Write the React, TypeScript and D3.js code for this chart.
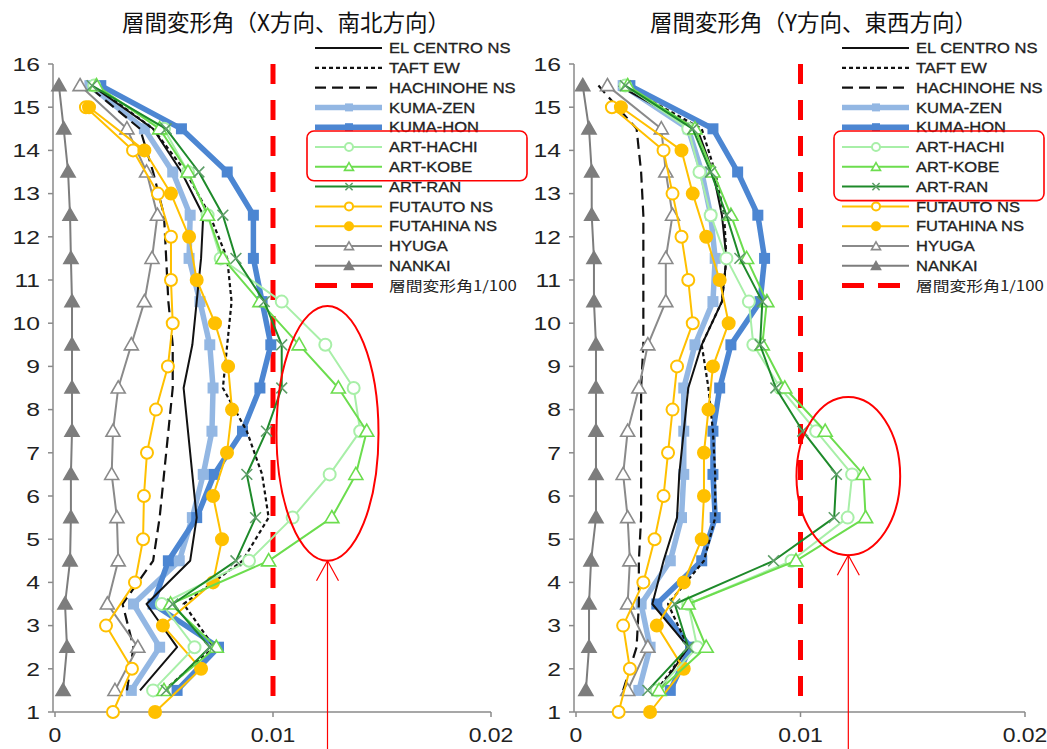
import React from 'react';
import * as d3 from 'd3';

// story levels (half levels = between floors, int levels = floor lines)
const halfLevels = [1.5, 2.5, 3.5, 4.5, 5.5, 6.5, 7.5, 8.5, 9.5, 10.5, 11.5, 12.5, 13.5, 14.5, 15.5];
const intLevels = [1, 2, 3, 4, 5, 6, 7, 8, 9, 10, 11, 12, 13, 14, 15];
const yTickLabels = [1, 2, 3, 4, 5, 6, 7, 8, 9, 10, 11, 12, 13, 14, 15, 16];
const xTickValues = [0, 0.01, 0.02];
const xTickLabels = ['0', '0.01', '0.02'];

const seriesNames = [
  'EL CENTRO NS', 'TAFT EW', 'HACHINOHE NS', 'KUMA-ZEN', 'KUMA-HON', 'ART-HACHI',
  'ART-KOBE', 'ART-RAN', 'FUTAUTO NS', 'FUTAHINA NS', 'HYUGA', 'NANKAI'
];
const limitLabel = '層間変形角1/100';

// X direction (north-south)
const elCentroX = [0.0039, 0.0056, 0.0042, 0.0062, 0.0065, 0.0063, 0.0061, 0.0059, 0.0063, 0.0065, 0.0067, 0.0068, 0.0058, 0.0045, 0.0017];
const taftX = [0.005, 0.0073, 0.0059, 0.0086, 0.0098, 0.0095, 0.0088, 0.0077, 0.0079, 0.0081, 0.0079, 0.0071, 0.006, 0.0045, 0.0018];
const hachinoheX = [0.0033, 0.0036, 0.0031, 0.0045, 0.0048, 0.005, 0.0052, 0.0054, 0.0054, 0.0052, 0.0051, 0.005, 0.0045, 0.0039, 0.0015];
const kumaZenX = [0.0035, 0.0048, 0.0036, 0.0057, 0.0063, 0.0068, 0.0072, 0.00725, 0.0071, 0.00665, 0.00615, 0.0062, 0.0054, 0.0041, 0.0016];
const kumaHonX = [0.0056, 0.0075, 0.0045, 0.0052, 0.0065, 0.0073, 0.0086, 0.0094, 0.0099, 0.0095, 0.0091, 0.0091, 0.0079, 0.0058, 0.0021];
const artHachiX = [0.0045, 0.0064, 0.0049, 0.0089, 0.0109, 0.0126, 0.014, 0.0137, 0.0124, 0.0104, 0.0076, 0.007, 0.0061, 0.005, 0.0018];
const artKobeX = [0.005, 0.0074, 0.0053, 0.0098, 0.0127, 0.0138, 0.0143, 0.013, 0.0112, 0.0094, 0.0077, 0.007, 0.0061, 0.0048, 0.0019];
const artRanX = [0.0051, 0.0071, 0.0054, 0.0083, 0.0092, 0.0088, 0.0097, 0.0104, 0.0104, 0.0096, 0.0083, 0.0077, 0.0066, 0.0051, 0.0017];
const futautoX = [0.00266, 0.00353, 0.00234, 0.00367, 0.00404, 0.00408, 0.00422, 0.00463, 0.00518, 0.0054, 0.00532, 0.00532, 0.00472, 0.00358, 0.00142];
const futahinaX = [0.00459, 0.0067, 0.00495, 0.00725, 0.00766, 0.00725, 0.00789, 0.00812, 0.00794, 0.00734, 0.0065, 0.00615, 0.00532, 0.0041, 0.00156];
const hyugaX = [0.00275, 0.0038, 0.0024, 0.0029, 0.00284, 0.0026, 0.00266, 0.0029, 0.0035, 0.0041, 0.00445, 0.0047, 0.0042, 0.0033, 0.00115];
const nankaiX = [0.00037, 0.00055, 0.00046, 0.00069, 0.00073, 0.00073, 0.00078, 0.00078, 0.00078, 0.00078, 0.00073, 0.00069, 0.0006, 0.0004, 0.00018];

// Y direction (east-west)
const elCentroY = [0.0037, 0.005, 0.0034, 0.0039, 0.0045, 0.0046, 0.0048, 0.005, 0.0056, 0.0065, 0.0067, 0.0065, 0.0061, 0.0054, 0.0019];
const taftY = [0.0036, 0.005, 0.0041, 0.0057, 0.0062, 0.0062, 0.0061, 0.0059, 0.0056, 0.0065, 0.0067, 0.0066, 0.0062, 0.0056, 0.0021];
const hachinoheY = [0.0021, 0.0027, 0.0028, 0.0028, 0.0029, 0.0029, 0.0029, 0.0029, 0.003, 0.003, 0.003, 0.003, 0.0029, 0.0027, 0.001];
const kumaZenY = [0.0028, 0.0033, 0.0029, 0.0042, 0.0047, 0.0048, 0.0048, 0.0048, 0.0053, 0.0061, 0.0062, 0.006, 0.0056, 0.005, 0.0021];
const kumaHonY = [0.0042, 0.0051, 0.0036, 0.0056, 0.0062, 0.0061, 0.0061, 0.0064, 0.0069, 0.0082, 0.0084, 0.0081, 0.0072, 0.0061, 0.0024];
const artHachiY = [0.0036, 0.0054, 0.005, 0.0096, 0.0121, 0.0123, 0.0107, 0.0091, 0.0079, 0.0077, 0.0067, 0.006, 0.0055, 0.005, 0.0022];
const artKobeY = [0.0037, 0.0058, 0.005, 0.0098, 0.0129, 0.0128, 0.0111, 0.0093, 0.0083, 0.0085, 0.0076, 0.0069, 0.0061, 0.0053, 0.0023];
const artRanY = [0.0032, 0.005, 0.0044, 0.0088, 0.0115, 0.0116, 0.0101, 0.0089, 0.0082, 0.0083, 0.0073, 0.0067, 0.006, 0.0052, 0.0022];
const futautoY = [0.0019, 0.0024, 0.0021, 0.003, 0.0035, 0.0039, 0.0041, 0.0043, 0.0045, 0.0052, 0.005, 0.0047, 0.0043, 0.0039, 0.0016];
const futahinaY = [0.0033, 0.0048, 0.0036, 0.0048, 0.0056, 0.0057, 0.0057, 0.0059, 0.0061, 0.0068, 0.0064, 0.0058, 0.0052, 0.0047, 0.002];
const hyugaY = [0.0023, 0.0032, 0.0023, 0.0024, 0.0023, 0.0021, 0.0023, 0.0028, 0.0032, 0.004, 0.004, 0.0043, 0.004, 0.0038, 0.0014];
const nankaiY = [0.00044, 0.00058, 0.00058, 0.00067, 0.00089, 0.00089, 0.00089, 0.00089, 0.00089, 0.0008, 0.0008, 0.0007, 0.0007, 0.00058, 0.0003];

const limitDrift = 0.01;

type Style = { stroke: string; width: number; dash?: string; marker?: string; fill?: string; mstroke?: string };
const STYLE: Record<string, Style> = {
  'EL CENTRO NS': { stroke: '#111', width: 2 },
  'TAFT EW': { stroke: '#111', width: 2.2, dash: '4,3' },
  'HACHINOHE NS': { stroke: '#111', width: 2.2, dash: '11,6' },
  'KUMA-ZEN': { stroke: '#93B7E3', width: 5.5, marker: 'square', fill: '#93B7E3' },
  'KUMA-HON': { stroke: '#4C86D2', width: 5.5, marker: 'square', fill: '#4C86D2' },
  'ART-HACHI': { stroke: '#A8EFA8', width: 2, marker: 'circle', fill: '#fff' },
  'ART-KOBE': { stroke: '#6CDD4E', width: 2, marker: 'triangle', fill: '#fff' },
  'ART-RAN': { stroke: '#1E8A2A', width: 2, marker: 'x', mstroke: '#5E9E68' },
  'FUTAUTO NS': { stroke: '#FFC000', width: 2, marker: 'circle', fill: '#fff' },
  'FUTAHINA NS': { stroke: '#FFC000', width: 2, marker: 'circle', fill: '#FFC000' },
  'HYUGA': { stroke: '#8A8A8A', width: 2, marker: 'triangle', fill: '#fff' },
  'NANKAI': { stroke: '#7D7D7D', width: 2, marker: 'triangle', fill: '#7D7D7D' },
};

const drawOrder = ['KUMA-ZEN', 'KUMA-HON', 'EL CENTRO NS', 'TAFT EW', 'HACHINOHE NS', 'NANKAI', 'HYUGA',
  'FUTAUTO NS', 'FUTAHINA NS', 'ART-HACHI', 'ART-KOBE', 'ART-RAN'];

const levelsFor = (name: string) => (name.startsWith('FUTA') ? intLevels : halfLevels);
const SANS = "'Liberation Sans', Arial, sans-serif";

function Marker({ type, x, y, s, st }: { type?: string; x: number; y: number; s: number; st: Style }) {
  if (!type) return null;
  if (type === 'circle') {
    return <circle cx={x} cy={y} r={s * 0.5} fill={st.fill} stroke={st.stroke} strokeWidth={2} />;
  }
  if (type === 'x') {
    const h = s * 0.45;
    return <path d={`M${x - h},${y - h}L${x + h},${y + h}M${x - h},${y + h}L${x + h},${y - h}`} stroke={st.mstroke || st.stroke} strokeWidth={1.6} />;
  }
  const sym = type === 'square' ? d3.symbolSquare : d3.symbolTriangle;
  const size = type === 'square' ? s * s : s * s * Math.sqrt(3) / 4;
  return <path d={d3.symbol().type(sym).size(size)() || ''} transform={`translate(${x},${y + (type === 'triangle' ? 1 : 0)})`}
    fill={st.fill} stroke={st.stroke} strokeWidth={type === 'square' ? 0 : 1.6} />;
}

// text that is stretched horizontally like the original raster
function WideText({ x, y, sx, anchor, size, children, weight, family }: any) {
  return (
    <text transform={`translate(${x},${y}) scale(${sx},1)`} dy="0.36em" textAnchor={anchor} fontSize={size}
      fontFamily={family || SANS} fill="#222" stroke={weight ? '#222' : 'none'} strokeWidth={weight || 0}>{children}</text>
  );
}

type PanelProps = {
  title: string; xLeft: number; xRight: number; legendX: number;
  data: Record<string, number[]>;
  ellipse: { cx: number; cy: number; rx: number; ry: number };
  boxRows: [number, number]; boxRight: number;
};

function Panel({ title, xLeft, xRight, legendX, data, ellipse, boxRows, boxRight }: PanelProps) {
  const x = d3.scaleLinear().domain([0, 0.02]).range([xLeft, xRight]);
  const y = d3.scaleLinear().domain([1, 16]).range([712, 64]);
  const axisX = xLeft - 2;
  const line = d3.line<[number, number]>().x(d => x(d[0])).y(d => y(d[1]));
  const rowY = (i: number) => 48 + i * 19.8;

  const ex = x(ellipse.cx);
  const ey = y(ellipse.cy);
  const erx = x(ellipse.rx) - x(0);
  const ery = y(0) - y(ellipse.ry);
  const arrowTop = ey + ery;

  return (
    <g>
      <text x={(xLeft + xRight) / 2 + 13} y={31} textAnchor="middle" fontSize={22.5}
        fontFamily="'Noto Sans CJK JP', sans-serif" fill="#111">{title}</text>

      {/* axes */}
      <line x1={axisX} x2={axisX} y1={y(16)} y2={y(1)} stroke="#8a8a8a" strokeWidth={1.5} />
      <line x1={axisX} x2={xRight} y1={y(1)} y2={y(1)} stroke="#8a8a8a" strokeWidth={1.5} />
      {yTickLabels.map(t => (
        <g key={t}>
          <line x1={axisX - 5} x2={axisX} y1={y(t)} y2={y(t)} stroke="#8a8a8a" strokeWidth={1.5} />
          <WideText x={axisX - 13} y={y(t)} sx={1.3} anchor="end" size={19}>{t}</WideText>
        </g>
      ))}
      {xTickValues.map((t, i) => (
        <g key={t}>
          <line x1={x(t)} x2={x(t)} y1={y(1)} y2={y(1) + 5} stroke="#8a8a8a" strokeWidth={1.5} />
          <WideText x={x(t)} y={735} sx={1.12} anchor="middle" size={20.5}>{xTickLabels[i]}</WideText>
        </g>
      ))}

      {/* 1/100 limit */}
      <line x1={x(limitDrift)} x2={x(limitDrift)} y1={y(16)} y2={y(1.15)} stroke="#FF0000" strokeWidth={5} strokeDasharray="20,16" />

      {/* series */}
      {drawOrder.map(name => {
        const st = STYLE[name];
        const lv = levelsFor(name);
        const pts = data[name].map((v, i) => [v, lv[i]] as [number, number]);
        const ms = st.marker === 'square' ? 11 : st.marker === 'triangle' ? 14 : 12;
        return (
          <g key={name}>
            <path d={line(pts) || ''} fill="none" stroke={st.stroke} strokeWidth={st.width}
              strokeDasharray={st.dash} strokeLinejoin="round" />
            {pts.map((p, i) => <Marker key={i} type={st.marker} x={x(p[0])} y={y(p[1])} s={ms} st={st} />)}
          </g>
        );
      })}

      {/* legend */}
      {seriesNames.map((name, i) => {
        const st = STYLE[name];
        const ly = rowY(i);
        const ms = st.marker === 'square' ? 8 : st.marker === 'triangle' ? 9 : 8;
        return (
          <g key={name}>
            <line x1={legendX} x2={legendX + 67} y1={ly} y2={ly} stroke={st.stroke}
              strokeWidth={st.width} strokeDasharray={st.dash} />
            <Marker type={st.marker} x={legendX + 34} y={ly} s={ms} st={st} />
            <WideText x={legendX + 74} y={ly} sx={1.14} anchor="start" size={14.5} weight={0.3}>{name}</WideText>
          </g>
        );
      })}
      <g>
        <line x1={legendX} x2={legendX + 67} y1={rowY(12)} y2={rowY(12)} stroke="#FF0000" strokeWidth={5} strokeDasharray="22,14" />
        <WideText x={legendX + 74} y={rowY(12)} sx={1.2} anchor="start" size={14}
          family="'Noto Sans CJK JP', sans-serif">{limitLabel}</WideText>
      </g>

      {/* highlight box */}
      <rect x={legendX - 8} y={rowY(boxRows[0]) - 16} width={boxRight - legendX + 8}
        height={rowY(boxRows[1]) - rowY(boxRows[0]) + 30} rx={7} fill="none" stroke="#FF0000" strokeWidth={1.6} />

      {/* highlight ellipse and arrow */}
      <ellipse cx={ex} cy={ey} rx={erx} ry={ery} fill="none" stroke="#FF0000" strokeWidth={2} />
      <line x1={ex} x2={ex} y1={arrowTop} y2={749} stroke="#FF0000" strokeWidth={1.2} />
      <path d={`M${ex - 11},${arrowTop + 20}L${ex},${arrowTop}L${ex + 11},${arrowTop + 20}`} fill="none" stroke="#FF0000" strokeWidth={1.2} />
    </g>
  );
}

const dataX: Record<string, number[]> = {
  'EL CENTRO NS': elCentroX, 'TAFT EW': taftX, 'HACHINOHE NS': hachinoheX, 'KUMA-ZEN': kumaZenX,
  'KUMA-HON': kumaHonX, 'ART-HACHI': artHachiX, 'ART-KOBE': artKobeX, 'ART-RAN': artRanX,
  'FUTAUTO NS': futautoX, 'FUTAHINA NS': futahinaX, 'HYUGA': hyugaX, 'NANKAI': nankaiX,
};
const dataY: Record<string, number[]> = {
  'EL CENTRO NS': elCentroY, 'TAFT EW': taftY, 'HACHINOHE NS': hachinoheY, 'KUMA-ZEN': kumaZenY,
  'KUMA-HON': kumaHonY, 'ART-HACHI': artHachiY, 'ART-KOBE': artKobeY, 'ART-RAN': artRanY,
  'FUTAUTO NS': futautoY, 'FUTAHINA NS': futahinaY, 'HYUGA': hyugaY, 'NANKAI': nankaiY,
};

export default function App() {
  return (
    <svg width={1047} height={749} style={{ position: 'absolute', left: 0, top: 0, background: '#fff' }}>
      <Panel title="層間変形角（X方向、南北方向）" xLeft={55} xRight={491} legendX={315}
        data={dataX} ellipse={{ cx: 0.0125, cy: 7.45, rx: 0.00234, ry: 2.95 }} boxRows={[5, 6]} boxRight={527} />
      <Panel title="層間変形角（Y方向、東西方向）" xLeft={576} xRight={1025} legendX={842}
        data={dataY} ellipse={{ cx: 0.01213, cy: 6.46, rx: 0.00231, ry: 1.83 }} boxRows={[5, 7]} boxRight={1044} />
    </svg>
  );
}
